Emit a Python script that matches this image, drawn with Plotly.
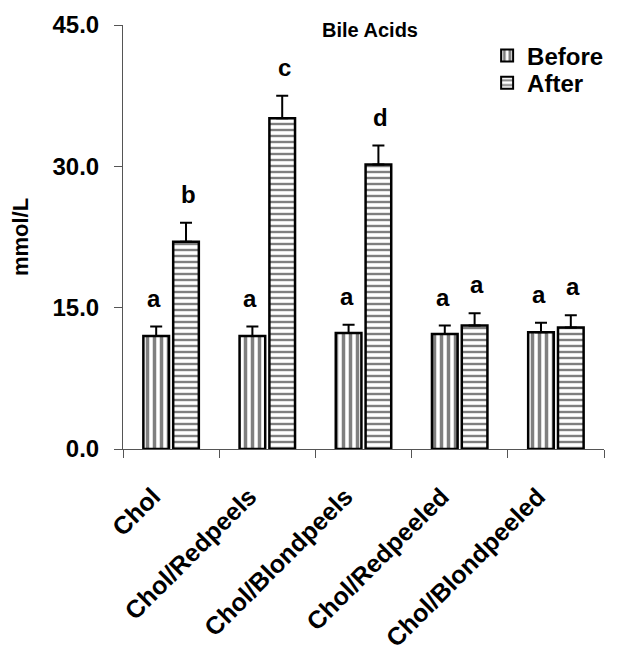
import plotly.graph_objects as go

categories = ["Chol", "Chol/Redpeels", "Chol/Blondpeels", "Chol/Redpeeled", "Chol/Blondpeeled"]
before_vals = [12.0, 12.0, 12.3, 12.2, 12.4]
before_err = [1.0, 1.0, 0.9, 0.9, 1.0]
after_vals = [22.0, 35.1, 30.2, 13.1, 12.9]
after_err = [2.0, 2.4, 2.0, 1.3, 1.3]
before_letters = ["a", "a", "a", "a", "a"]
after_letters = ["b", "c", "d", "a", "a"]
y_ticks = [0, 15, 30, 45]

FONT = "Arial, 'Liberation Sans', sans-serif"

fig = go.Figure()
fig.add_trace(go.Bar(
    name="Before", x=categories, y=before_vals, legend="legend",
    marker=dict(color="white", line=dict(color="black", width=2.5),
                pattern=dict(shape="|", size=7, solidity=0.5, fgcolor="black", bgcolor="white", fillmode="overlay")),
    error_y=dict(type="data", array=before_err, arrayminus=[0]*len(before_err), symmetric=False,
                 color="black", thickness=2, width=6),
))
fig.add_trace(go.Bar(
    name="After", x=categories, y=after_vals, legend="legend2",
    marker=dict(color="white", line=dict(color="black", width=2.5),
                pattern=dict(shape="-", size=6, solidity=0.4, fgcolor="black", bgcolor="white", fillmode="overlay")),
    error_y=dict(type="data", array=after_err, arrayminus=[0]*len(after_err), symmetric=False,
                 color="black", thickness=2, width=6),
))

# significance letters
for i, c in enumerate(categories):
    fig.add_annotation(x=c, y=before_vals[i] + before_err[i], text=before_letters[i],
                       xshift=-17, yshift=13, yanchor="bottom", showarrow=False,
                       font=dict(family=FONT, size=24, color="black", weight="bold"))
    fig.add_annotation(x=c, y=after_vals[i] + after_err[i], text=after_letters[i],
                       xshift=17, yshift=13, yanchor="bottom", showarrow=False,
                       font=dict(family=FONT, size=24, color="black", weight="bold"))

legend_font = dict(family=FONT, size=24, color="black", weight="bold")
fig.update_layout(
    width=614, height=645,
    margin=dict(l=115, r=18, t=17, b=203.5),
    plot_bgcolor="white", paper_bgcolor="white",
    barmode="group", bargap=0.38, bargroupgap=0.14,
    font=dict(family=FONT, color="black", weight="bold"),
    title=dict(text="<b>Bile Acids</b>", x=(370 - 8) / 614, xanchor="center", xref="container",
               y=1 - 22 / 645, yref="container", yanchor="middle",
               font=dict(family=FONT, size=20, color="black")),
    legend=dict(x=0.757, y=0.927, xanchor="left", yanchor="middle", bgcolor="rgba(0,0,0,0)",
                font=legend_font, itemsizing="constant"),
    legend2=dict(x=0.757, y=0.863, xanchor="left", yanchor="middle", bgcolor="rgba(0,0,0,0)",
                 font=legend_font, itemsizing="constant"),
    showlegend=True,
)
fig.update_xaxes(
    showline=True, linecolor="#555", linewidth=1,
    ticks="outside", ticklen=8, tickcolor="#555", tickson="boundaries",
    tickangle=-45, ticklabelstandoff=22, ticklabelshift=-18,
    tickfont=dict(family=FONT, size=25, color="black", weight="bold"),
    showgrid=False, automargin=False,
)
fig.update_yaxes(
    range=[0, 45], tickvals=y_ticks, tickformat=".1f",
    showline=True, linecolor="#555", linewidth=1,
    ticks="outside", ticklen=8, tickcolor="#555", ticklabelstandoff=10,
    tickfont=dict(family=FONT, size=24, color="black", weight="bold"),
    showgrid=False, zeroline=False, automargin=False,
    title=dict(text="mmol/L", standoff=17, font=dict(family=FONT, size=22, color="black", weight="bold")),
)

fig.write_html("out.html")
